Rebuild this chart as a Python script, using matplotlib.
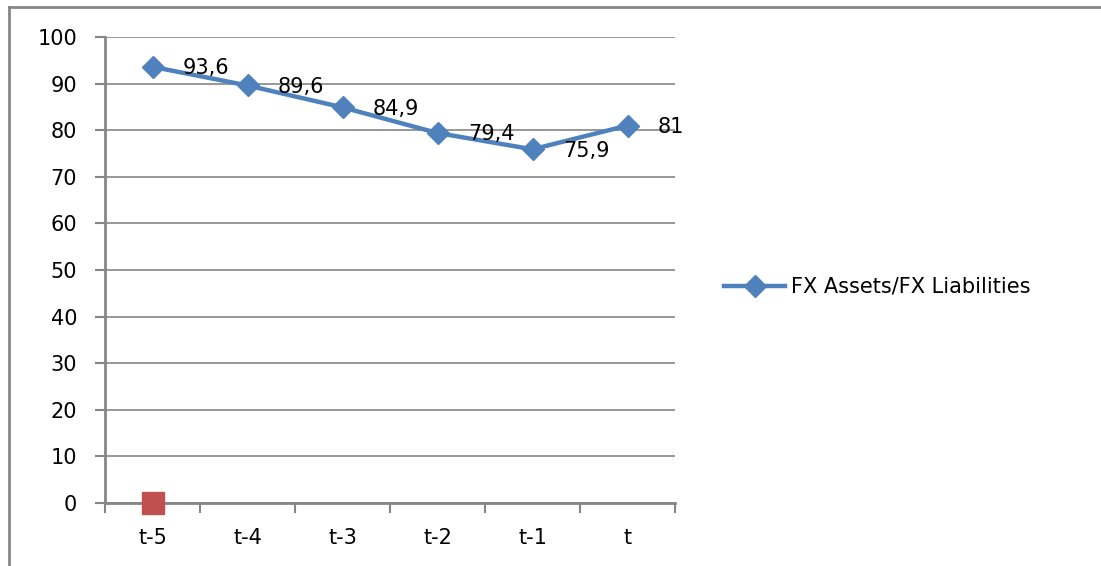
import matplotlib
matplotlib.use("Agg")
import matplotlib.pyplot as plt
from matplotlib.lines import Line2D

# Chart data
periods = ["t-5", "t-4", "t-3", "t-2", "t-1", "t"]
fxRatio = [93.6, 89.6, 84.9, 79.4, 75.9, 81]
ratioLabels = ["93,6", "89,6", "84,9", "79,4", "75,9", "81"]
# Second series: only one point shown (no legend entry)
extraPeriod = [0]
extraValue = [0]

blue = "#4f81bd"
red = "#c0504d"
gray = "#868686"
fs = 15

plt.rcParams["font.family"] = "DejaVu Sans"

fig = plt.figure(figsize=(11.01, 5.66), dpi=100)
ax = fig.add_axes([105 / 1101, 1 - 503 / 566, (675 - 105) / 1101, (503 - 37) / 566])

xs = list(range(len(periods)))
ax.plot(xs, fxRatio, color=blue, linewidth=3.2, marker="D", markersize=11,
        label="FX Assets/FX Liabilities", zorder=3)
ax.plot(extraPeriod, extraValue, linestyle="none", marker="s", markersize=16,
        color=red, markeredgecolor=red, zorder=4, clip_on=False)

# Data labels to the right of each point
for x, y, lbl in zip(xs, fxRatio, ratioLabels):
    ax.annotate(lbl, (x, y), xytext=(22, -1), textcoords="offset points",
                ha="left", va="center", fontsize=fs)

ax.set_xlim(-0.5, 5.5)
ax.set_ylim(0, 100)
ax.set_yticks(range(0, 101, 10))
ax.set_xticks(xs)
ax.set_xticklabels(periods)
ax.set_xticks([i - 0.5 for i in range(len(periods) + 1)], minor=True)

ax.grid(axis="y", color=gray, linewidth=1.2)
ax.set_axisbelow(True)
for side in ["top", "right"]:
    ax.spines[side].set_visible(False)
for side in ["left", "bottom"]:
    ax.spines[side].set_color(gray)
    ax.spines[side].set_linewidth(2)

ax.tick_params(axis="y", direction="out", length=7, width=1.5, color=gray,
               labelsize=fs, pad=13)
ax.tick_params(axis="x", which="major", length=0, labelsize=fs, pad=18)
ax.tick_params(axis="x", which="minor", direction="out", length=7, width=1.5, color=gray)

fig.legend(handles=[ax.lines[0]], loc="center left",
           bbox_to_anchor=(716 / 1101, 1 - 287 / 566), frameon=False,
           fontsize=fs, handlelength=2.9, handletextpad=0.3, borderaxespad=0)

# Outer chart frame (top and left edges only visible)
fig.add_artist(Line2D([9 / 1101, 9 / 1101], [0, 1 - 7 / 566], transform=fig.transFigure,
                      color=gray, linewidth=2))
fig.add_artist(Line2D([9 / 1101, 1], [1 - 7 / 566, 1 - 7 / 566], transform=fig.transFigure,
                      color=gray, linewidth=2))

fig.savefig("out.png", dpi=100)
